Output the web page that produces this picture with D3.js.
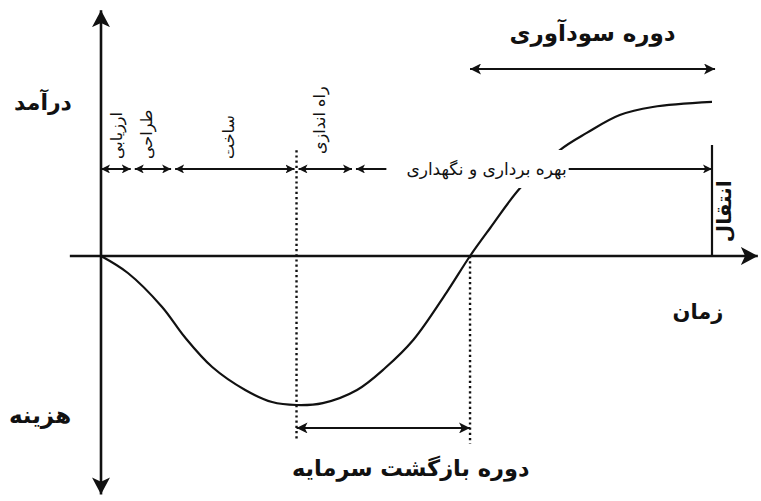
<!DOCTYPE html>
<html>
<head>
<meta charset="utf-8">
<script src="https://cdn.jsdelivr.net/npm/d3@7"></script>
<style>
  body { margin: 0; background: #fff; }
  text { font-family: "DejaVu Sans", sans-serif; fill: #111; }
</style>
</head>
<body>
<svg id="chart" width="761" height="501"></svg>
<script>
// project life-cycle cash curve (time units 0..100, value units: cost < 0 < revenue)
const curveTime  = [0, 4.4, 10, 13.7, 18.2, 23.6, 28, 32, 36.3, 41.9, 46.5, 51.1, 56.6, 60.4, 63.7, 68.6, 75.1, 79.5, 84.9, 90.3, 100];
const curveValue = [0, -11.4, -34.2, -54.4, -74.5, -89.9, -98, -100, -98.7, -89.9, -75.2, -56.4, -24.2, 0, 18.8, 45.6, 71.1, 82.6, 94.6, 100, 103.4];

const phaseNames  = ['ارزیابی', 'طراحی', 'ساخت', 'راه اندازی', 'بهره برداری و نگهداری'];
const phaseBounds = [0, 5.2, 11.8, 32, 41.4, 100];

const paybackStart = 32;     // lowest point of the curve
const breakEven = 60.4;      // curve crosses zero
const transferTime = 100;

const axisLabels = { revenue: 'درآمد', cost: 'هزینه', time: 'زمان', transfer: 'انتقال' };
const periodLabels = { profit: 'دوره سودآوری', payback: 'دوره بازگشت سرمایه' };

const svg = d3.select('#chart');

const x = d3.scaleLinear().domain([0, 100]).range([101, 712]);
const y = d3.scaleLinear().domain([-100, 100]).range([405, 107]);

const ink = '#111';

// arrowhead markers
const defs = svg.append('defs');
function marker(id, len, half) {
    defs.append('marker')
        .attr('id', id)
        .attr('viewBox', `0 ${-half} ${len} ${half * 2}`)
        .attr('refX', len).attr('refY', 0)
        .attr('markerWidth', len).attr('markerHeight', half * 2)
        .attr('markerUnits', 'userSpaceOnUse')
        .attr('orient', 'auto-start-reverse')
        .append('path')
        .attr('d', `M0,${-half}L${len},0L0,${half}L${len * 0.25},0Z`)
        .attr('fill', ink);
}
marker('small', 9, 4.5);
marker('mid', 11, 5.5);
marker('big', 17, 9);

function label(sel, size, bold) {
    return sel.attr('dominant-baseline', 'central')
        .style('font-size', size + 'px')
        .style('font-weight', bold ? 'bold' : 'normal');
}

const g = svg.append('g');

// axes
g.append('line')
    .attr('x1', x(-5.1)).attr('x2', x(107.5))
    .attr('y1', y(0)).attr('y2', y(0))
    .attr('stroke', ink).attr('stroke-width', 2.4)
    .attr('marker-end', 'url(#big)');
g.append('line')
    .attr('x1', x(0)).attr('x2', x(0))
    .attr('y1', y(-160)).attr('y2', y(165))
    .attr('stroke', ink).attr('stroke-width', 2.6)
    .attr('marker-start', 'url(#big)')
    .attr('marker-end', 'url(#big)');

// dotted guides
g.append('line')
    .attr('x1', x(paybackStart)).attr('x2', x(paybackStart))
    .attr('y1', y(71)).attr('y2', y(-124))
    .attr('stroke', ink).attr('stroke-width', 2.4)
    .attr('stroke-dasharray', '2.2,3');
g.append('line')
    .attr('x1', x(breakEven)).attr('x2', x(breakEven))
    .attr('y1', y(0)).attr('y2', y(-126))
    .attr('stroke', ink).attr('stroke-width', 2.4)
    .attr('stroke-dasharray', '2.2,3');

// transfer line
g.append('line')
    .attr('x1', x(transferTime)).attr('x2', x(transferTime))
    .attr('y1', y(74.5)).attr('y2', y(0))
    .attr('stroke', ink).attr('stroke-width', 2.2);

// the curve
const line = d3.line()
    .x((d, i) => x(curveTime[i]))
    .y(d => y(d))
    .curve(d3.curveCatmullRom.alpha(0.5));
g.append('path')
    .attr('d', line(curveValue))
    .attr('fill', 'none')
    .attr('stroke', ink)
    .attr('stroke-width', 2.2);

// phase bar
const phaseY = y(58.4);
const last = phaseNames.length - 1;
const opLabel = label(g.append('text'), 17, false)
    .attr('x', x(63.1)).attr('y', phaseY)
    .attr('text-anchor', 'middle')
    .text(phaseNames[last]);
const lb = opLabel.node().getBBox();
// white out the curve behind the operation label
g.insert('rect', 'text')
    .attr('x', lb.x - 4).attr('y', phaseY - 19)
    .attr('width', lb.width + 8).attr('height', 38)
    .attr('fill', '#fff');

phaseNames.forEach((name, i) => {
    const a = x(phaseBounds[i]) + (i === 0 ? 0 : 2);
    const b = x(phaseBounds[i + 1]) - (i === last ? 0 : 2);
    if (i === last) {
        g.append('line')
            .attr('x1', a).attr('x2', lb.x - 20)
            .attr('y1', phaseY).attr('y2', phaseY)
            .attr('stroke', ink).attr('stroke-width', 2)
            .attr('marker-start', 'url(#small)');
        g.append('line')
            .attr('x1', lb.x + lb.width + 2).attr('x2', b)
            .attr('y1', phaseY).attr('y2', phaseY)
            .attr('stroke', ink).attr('stroke-width', 2)
            .attr('marker-end', 'url(#small)');
        return;
    }
    g.append('line')
        .attr('x1', a).attr('x2', b)
        .attr('y1', phaseY).attr('y2', phaseY)
        .attr('stroke', ink).attr('stroke-width', 2)
        .attr('marker-start', 'url(#small)')
        .attr('marker-end', 'url(#small)');
    const cx = (x(phaseBounds[i]) + x(phaseBounds[i + 1])) / 2 - (i === 0 ? 0 : 6);
    label(g.append('text'), 16, false)
        .attr('transform', `translate(${cx},${phaseY - (i === 3 ? 15 : 10)}) rotate(-90)`)
        .attr('text-anchor', 'start')
        .text(name);
});

// profit period
g.append('line')
    .attr('x1', x(breakEven)).attr('x2', x(100.5))
    .attr('y1', y(125.5)).attr('y2', y(125.5))
    .attr('stroke', ink).attr('stroke-width', 2)
    .attr('marker-start', 'url(#mid)')
    .attr('marker-end', 'url(#mid)');
label(g.append('text'), 23, true)
    .attr('x', (x(breakEven) + x(100.5)) / 2).attr('y', y(149.7))
    .attr('text-anchor', 'middle')
    .text(periodLabels.profit);

// payback period
g.append('line')
    .attr('x1', x(paybackStart)).attr('x2', x(breakEven))
    .attr('y1', y(-115.4)).attr('y2', y(-115.4))
    .attr('stroke', ink).attr('stroke-width', 2)
    .attr('marker-start', 'url(#mid)')
    .attr('marker-end', 'url(#mid)');
label(g.append('text'), 22.5, true)
    .attr('x', x(50.7)).attr('y', y(-142))
    .attr('text-anchor', 'middle')
    .text(periodLabels.payback);

// axis labels
label(g.append('text'), 22, true)
    .attr('x', x(0) - 58).attr('y', y(102.7))
    .attr('text-anchor', 'middle')
    .text(axisLabels.revenue);
label(g.append('text'), 23, true)
    .attr('x', x(0) - 61).attr('y', y(-107))
    .attr('text-anchor', 'middle')
    .text(axisLabels.cost);
label(g.append('text'), 21, true)
    .attr('x', x(97.7)).attr('y', y(-37.6))
    .attr('text-anchor', 'middle')
    .text(axisLabels.time);
label(g.append('text'), 20, true)
    .attr('transform', `translate(${x(transferTime) + 12},${y(30)}) rotate(-90)`)
    .attr('text-anchor', 'middle')
    .text(axisLabels.transfer);
</script>
</body>
</html>
